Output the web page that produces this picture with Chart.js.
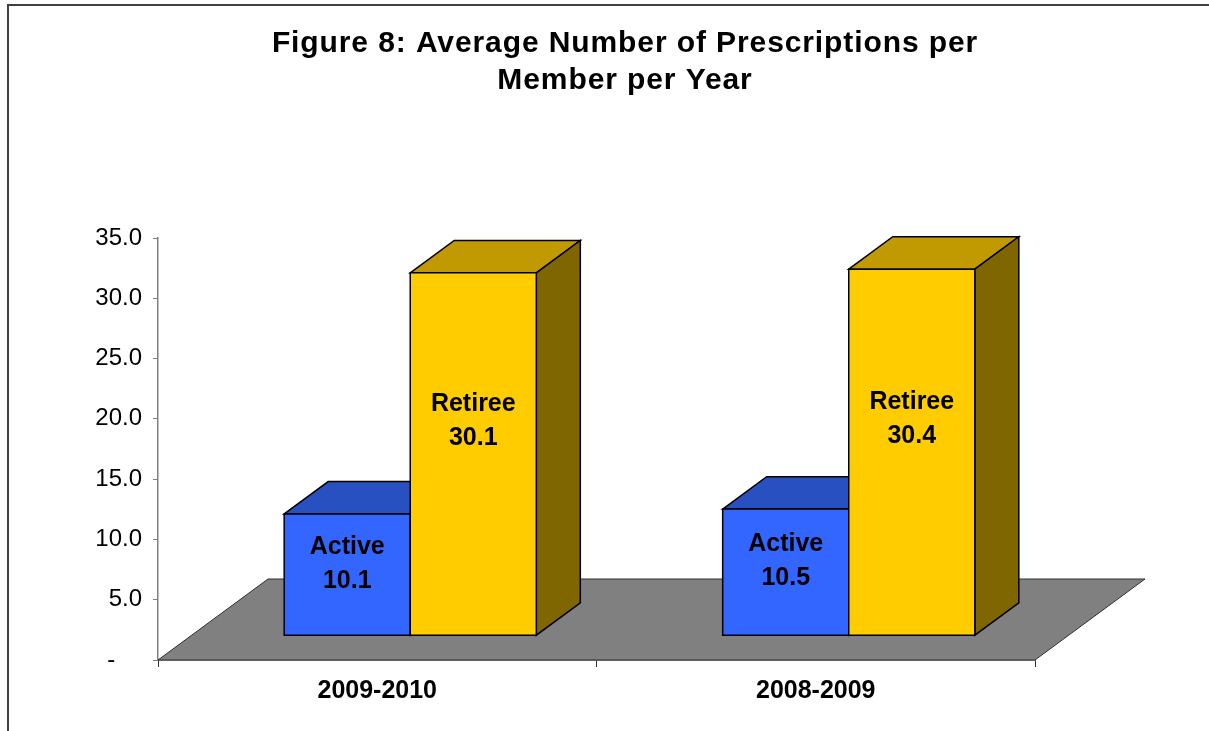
<!DOCTYPE html>
<html>
<head>
<meta charset="utf-8">
<title>Average Number of Prescriptions per Member per Year</title>
<script src="https://cdn.jsdelivr.net/npm/chart.js@4.4.1/dist/chart.umd.min.js"></script>
<style>
    html, body { margin: 0; padding: 0; background: #ffffff; }
    canvas { display: block; }
</style>
</head>
<body>
<canvas id="rxChart" width="1209" height="731"></canvas>
<script>
// Chart data
const years = ['2009-2010', '2008-2009'];
const activeValues = [10.1, 10.5];
const retireeValues = [30.1, 30.4];
const seriesNames = ['Active', 'Retiree'];
const yMin = 0;
const yMax = 35;
const yStep = 5;
const titleLines = ['Figure 8: Average Number of Prescriptions per', 'Member per Year'];

const FONT = "'Liberation Sans', Arial, Helvetica, sans-serif";

// Oblique depth of the floor; bars sit between 30% and 70% of it
const DEPTH = { x: 110, y: -81 };
const BAR_FRONT = 0.3;
const BAR_DEPTH = 0.4;

const faceColors = [
    { front: '#3366FF', top: '#2850C0', side: '#1A3A99' },
    { front: '#FFCC00', top: '#C09A00', side: '#806600' }
];

function fillPoly(ctx, pts, fill) {
    ctx.beginPath();
    ctx.moveTo(pts[0][0], pts[0][1]);
    for (let i = 1; i < pts.length; i++) ctx.lineTo(pts[i][0], pts[i][1]);
    ctx.closePath();
    ctx.fillStyle = fill;
    ctx.fill();
    ctx.stroke();
}

// Frame, title, floor and 3D columns
const bars3d = {
    id: 'bars3d',
    beforeDraw(chart) {
        const ctx = chart.ctx;
        ctx.save();
        ctx.strokeStyle = '#404040';
        ctx.lineWidth = 2;
        ctx.strokeRect(8, 5, chart.width + 20, chart.height + 20);

        // title, centred over the whole chart frame
        ctx.fillStyle = '#000000';
        ctx.font = 'bold 30px ' + FONT;
        ctx.letterSpacing = '0.9px';
        ctx.textAlign = 'center';
        ctx.textBaseline = 'middle';
        titleLines.forEach((line, i) => {
            ctx.fillText(line, 625, 44 + i * 37);
        });
        ctx.restore();
    },
    beforeDatasetsDraw(chart) {
        const { ctx, chartArea } = chart;
        const { left, right, bottom } = chartArea;
        ctx.save();
        ctx.strokeStyle = '#303030';
        ctx.lineWidth = 1;
        fillPoly(ctx, [
            [left, bottom],
            [right, bottom],
            [right + DEPTH.x, bottom + DEPTH.y],
            [left + DEPTH.x, bottom + DEPTH.y]
        ], '#808080');
        ctx.restore();
    },
    beforeDatasetDraw() {
        return false;
    },
    afterDatasetsDraw(chart) {
        const ctx = chart.ctx;
        const fx = DEPTH.x * BAR_FRONT, fy = DEPTH.y * BAR_FRONT;
        const dx = DEPTH.x * BAR_DEPTH, dy = DEPTH.y * BAR_DEPTH;
        ctx.save();
        ctx.strokeStyle = '#000000';
        ctx.lineWidth = 1.5;
        ctx.lineJoin = 'miter';
        const labels = [];
        chart.data.datasets.forEach((ds, i) => {
            const colors = faceColors[i];
            chart.getDatasetMeta(i).data.forEach((bar, j) => {
                const p = bar.getProps(['x', 'y', 'base', 'width'], true);
                const l = p.x - p.width / 2 + fx;
                const r = p.x + p.width / 2 + fx;
                const t = p.y + fy;
                const b = p.base + fy;
                fillPoly(ctx, [[l, t], [l + dx, t + dy], [r + dx, t + dy], [r, t]], colors.top);
                fillPoly(ctx, [[r, t], [r + dx, t + dy], [r + dx, b + dy], [r, b]], colors.side);
                fillPoly(ctx, [[l, t], [r, t], [r, b], [l, b]], colors.front);
                labels.push({
                    x: (l + r) / 2,
                    y: b - (b - t) * 0.59,
                    name: ds.label,
                    value: ds.data[j].toFixed(1)
                });
            });
        });
        // value labels on the front faces
        ctx.fillStyle = '#000000';
        ctx.font = 'bold 25px ' + FONT;
        ctx.textAlign = 'center';
        ctx.textBaseline = 'middle';
        labels.forEach(lb => {
            ctx.fillText(lb.name, lb.x, lb.y - 17);
            ctx.fillText(lb.value, lb.x, lb.y + 17);
        });
        ctx.restore();
    }
};

const ctx = document.getElementById('rxChart').getContext('2d');
const rxChart = new Chart(ctx, {
    type: 'bar',
    data: {
        labels: years,
        datasets: [
            {
                label: seriesNames[0],
                data: activeValues,
                backgroundColor: faceColors[0].front
            },
            {
                label: seriesNames[1],
                data: retireeValues,
                backgroundColor: faceColors[1].front
            }
        ]
    },
    options: {
        responsive: false,
        animation: false,
        categoryPercentage: 0.575,
        barPercentage: 1,
        layout: {
            padding: { left: 0, right: 174, top: 238, bottom: 0 }
        },
        plugins: {
            legend: { display: false },
            tooltip: { enabled: false },
            title: { display: false }
        },
        scales: {
            x: {
                afterFit(scale) { scale.height = 71; },
                grid: {
                    drawOnChartArea: false,
                    drawTicks: true,
                    tickLength: 7,
                    color: '#303030'
                },
                border: { color: '#303030', width: 1.5 },
                ticks: {
                    color: '#000000',
                    padding: 9,
                    font: { family: FONT, size: 25, weight: 'bold' }
                }
            },
            y: {
                min: yMin,
                max: yMax,
                afterFit(scale) { scale.width = 158; },
                grid: {
                    drawOnChartArea: false,
                    drawTicks: true,
                    tickLength: 5,
                    color: '#808080'
                },
                border: { color: '#808080', width: 1.5 },
                ticks: {
                    stepSize: yStep,
                    color: '#000000',
                    padding: 11,
                    font: { family: FONT, size: 24 },
                    callback: v => v === 0 ? '-    ' : v.toFixed(1)
                }
            }
        }
    },
    plugins: [bars3d]
});
</script>
</body>
</html>
